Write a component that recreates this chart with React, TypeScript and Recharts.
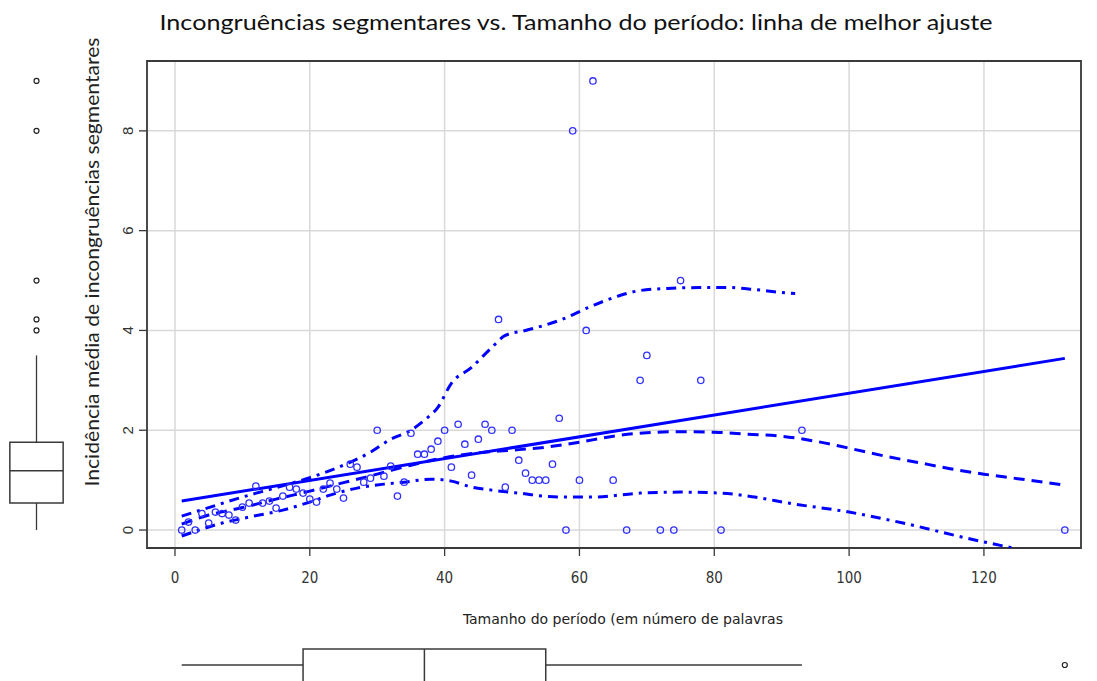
import React from 'react'
import {
  ComposedChart,
  Scatter,
  Line,
  XAxis,
  YAxis,
  CartesianGrid,
  ReferenceArea,
  ReferenceLine,
} from 'recharts'

// sentence length (words) vs mean incidence of segmental incongruities
const sizes = [
  1, 2, 3, 4, 5, 6, 7, 8, 9, 10, 11, 12, 13, 14, 15, 16, 17, 18, 19, 20,
  21, 22, 23, 24, 25, 26, 27, 28, 29, 30, 31, 32, 33, 34, 35, 36, 37, 38, 39, 40,
  41, 42, 43, 44, 45, 46, 47, 48, 49, 50, 51, 52, 53, 54, 55, 56, 57, 58, 59, 60,
  61, 62, 65, 67, 69, 70, 72, 74, 75, 78, 81, 93, 132,
]
const incidence = [
  0, 0.16, 0, 0.33, 0.14, 0.36, 0.33, 0.3, 0.2, 0.46, 0.54, 0.88, 0.54, 0.58, 0.44, 0.68, 0.86, 0.82, 0.74, 0.62,
  0.56, 0.82, 0.94, 0.82, 0.64, 1.32, 1.26, 0.96, 1.04, 2.0, 1.08, 1.28, 0.68, 0.96, 1.94, 1.52, 1.52, 1.62, 1.78, 2.0,
  1.26, 2.12, 1.72, 1.1, 1.82, 2.12, 2.0, 4.22, 0.86, 2.0, 1.4, 1.14, 1.0, 1.0, 1.0, 1.32, 2.24, 0, 8, 1.0,
  4.0, 9.0, 1.0, 0, 3.0, 3.5, 0, 0, 5.0, 3.0, 0, 2.0, 0,
]

// least squares line
const fitX = [1, 132]
const fitY = [0.58, 3.44]

// loess smoother
const smoothX = [1, 5, 10, 15, 20, 25, 30, 35, 40, 45, 50, 55, 60, 65, 70, 75, 80, 85, 90, 95, 100, 105, 110, 115, 120, 125, 132]
const smoothY = [0.12, 0.3, 0.45, 0.62, 0.78, 0.95, 1.12, 1.3, 1.45, 1.55, 1.6, 1.66, 1.76, 1.88, 1.95, 1.97, 1.96, 1.92, 1.88, 1.78, 1.64, 1.49, 1.36, 1.23, 1.12, 1.03, 0.9]

// spread, upper and lower
const upperX = [1, 5, 10, 15, 20, 25, 29, 32, 35, 37, 39, 41, 44, 47, 49, 52, 57, 62, 66, 69, 73, 78, 82, 86, 90, 92]
const upperY = [0.28, 0.45, 0.66, 0.85, 1.05, 1.3, 1.56, 1.82, 2.0, 2.2, 2.46, 2.94, 3.26, 3.66, 3.9, 4.0, 4.2, 4.5, 4.7, 4.8, 4.84, 4.86, 4.86, 4.82, 4.76, 4.74]
const lowerX = [1, 7, 11, 16, 20, 23, 27, 31, 34, 38, 41, 44, 47, 51, 57, 62, 69, 75, 81, 86, 91, 100, 108, 118, 125, 130]
const lowerY = [-0.12, 0.14, 0.26, 0.4, 0.56, 0.7, 0.84, 0.92, 0.96, 1.02, 0.98, 0.86, 0.8, 0.74, 0.66, 0.66, 0.74, 0.76, 0.74, 0.66, 0.54, 0.36, 0.14, -0.18, -0.38, -0.52]

// marginal boxplots: [low whisker, Q1, median, Q3, high whisker]
const xBoxStats = [1, 19, 37, 55, 93]
const xOutliers = [132]
const yBoxStats = [0, 0.54, 1.19, 1.76, 3.5]
const yOutliers = [4, 4.22, 5, 8, 9]

const xTicks = [0, 20, 40, 60, 80, 100, 120]
const yTicks = [0, 2, 4, 6, 8]

const X_DOMAIN: [number, number] = [-4.15, 134.4]
const Y_DOMAIN: [number, number] = [-0.36, 9.4]
const BLUE = '#0000ff'
const INK = '#3a3a3a'
const NARROW = "'Liberation Sans Narrow', 'DejaVu Sans Condensed', 'Arial Narrow', sans-serif"
const SANS = "'Liberation Sans', Arial, sans-serif"
const TITLE_FONT = "Lato, 'Open Sans', sans-serif"

const zip = (xs: number[], ys: number[]) => xs.map((x, i) => ({ x, y: ys[i] }))
const points = zip(sizes, incidence)

const XTick = (props: any) => (
  <text x={props.x} y={props.y + 20} dy="0.35em" textAnchor="middle" fontSize={15} fill="#333" fontFamily={NARROW}>
    {props.payload.value}
  </text>
)

const YTick = (props: any) => {
  const x = props.x - 9
  return (
    <text
      x={x}
      y={props.y}
      dy="0.35em"
      textAnchor="middle"
      fontSize={15}
      fill="#333"
      fontFamily={SANS}
      transform={`rotate(-90, ${x}, ${props.y})`}
    >
      {props.payload.value}
    </text>
  )
}

const hollow = (r: number, color: string, w: number) => (p: any) => (
  <circle cx={p.cx} cy={p.cy} r={r} fill="none" stroke={color} strokeWidth={w} />
)

function LeftBox() {
  const [lo, q1, med, q3, hi] = yBoxStats
  return (
    <ComposedChart width={73} height={681} margin={{ top: 61, right: 0, bottom: 133, left: 0 }}>
      <XAxis type="number" dataKey="x" domain={[-1, 1]} hide />
      <YAxis type="number" dataKey="y" domain={Y_DOMAIN} allowDataOverflow hide />
      <ReferenceArea x1={-0.73} x2={0.73} y1={q1} y2={q3} fill="none" stroke={INK} strokeWidth={1.5} fillOpacity={0} ifOverflow="visible" />
      <ReferenceLine segment={[{ x: -0.73, y: med }, { x: 0.73, y: med }]} stroke={INK} strokeWidth={1.5} ifOverflow="visible" />
      <ReferenceLine segment={[{ x: 0, y: q3 }, { x: 0, y: hi }]} stroke={INK} strokeWidth={1.3} ifOverflow="visible" />
      <ReferenceLine segment={[{ x: 0, y: lo }, { x: 0, y: q1 }]} stroke={INK} strokeWidth={1.3} ifOverflow="visible" />
      <Scatter data={yOutliers.map((y) => ({ x: 0, y }))} shape={hollow(2.5, '#222', 1.2)} isAnimationActive={false} />
    </ComposedChart>
  )
}

function BottomBox() {
  const [lo, q1, med, q3, hi] = xBoxStats
  return (
    <ComposedChart width={1097} height={64} margin={{ top: 0, right: 16, bottom: 0, left: 147 }}>
      <XAxis type="number" dataKey="x" domain={X_DOMAIN} allowDataOverflow hide />
      <YAxis type="number" dataKey="y" domain={[-1, 1]} hide />
      <ReferenceArea x1={q1} x2={q3} y1={-0.6} y2={0.5} fill="none" fillOpacity={0} stroke={INK} strokeWidth={1.5} ifOverflow="visible" />
      <ReferenceLine segment={[{ x: med, y: -0.6 }, { x: med, y: 0.5 }]} stroke={INK} strokeWidth={1.5} ifOverflow="visible" />
      <ReferenceLine segment={[{ x: lo, y: 0 }, { x: q1, y: 0 }]} stroke={INK} strokeWidth={1.3} ifOverflow="visible" />
      <ReferenceLine segment={[{ x: q3, y: 0 }, { x: hi, y: 0 }]} stroke={INK} strokeWidth={1.3} ifOverflow="visible" />
      <Scatter data={xOutliers.map((x) => ({ x, y: 0 }))} shape={hollow(2.5, '#222', 1.2)} isAnimationActive={false} />
    </ComposedChart>
  )
}

export default function App() {
  return (
    <div style={{ position: 'absolute', left: 0, top: 0, width: 1097, height: 681, background: '#fff', overflow: 'hidden' }}>
      <div style={{ position: 'absolute', left: 0, top: 0 }}>
        <LeftBox />
      </div>
      <div style={{ position: 'absolute', left: 0, top: 633 }}>
        <BottomBox />
      </div>
      <div style={{ position: 'absolute', left: 0, top: 0 }}>
        <ComposedChart width={1097} height={681} margin={{ top: 61, right: 16, bottom: 103, left: 107 }}>
          <CartesianGrid stroke="#d9d9d9" strokeWidth={1.5} />
          <XAxis
            type="number"
            dataKey="x"
            domain={X_DOMAIN}
            ticks={xTicks}
            allowDataOverflow
            height={30}
            tickSize={8}
            axisLine={false}
            tickLine={{ stroke: INK, strokeWidth: 1.3 }}
            tick={<XTick />}
            interval={0}
          />
          <YAxis
            type="number"
            dataKey="y"
            domain={Y_DOMAIN}
            ticks={yTicks}
            allowDataOverflow
            width={40}
            tickSize={8}
            axisLine={false}
            tickLine={{ stroke: INK, strokeWidth: 1.3 }}
            tick={<YTick />}
            interval={0}
          />
          <ReferenceArea
            x1={X_DOMAIN[0]}
            x2={X_DOMAIN[1]}
            y1={Y_DOMAIN[0]}
            y2={Y_DOMAIN[1]}
            fill="none"
            fillOpacity={0}
            stroke={INK}
            strokeWidth={1.8}
            ifOverflow="visible"
          />
          <Scatter data={points} shape={hollow(3.2, '#3030ff', 1.3)} isAnimationActive={false} />
          <Line data={zip(fitX, fitY)} dataKey="y" type="linear" stroke={BLUE} strokeWidth={3} dot={false} isAnimationActive={false} />
          <Line data={zip(smoothX, smoothY)} dataKey="y" type="monotone" stroke={BLUE} strokeWidth={3} strokeDasharray="11 7" dot={false} isAnimationActive={false} />
          <Line data={zip(upperX, upperY)} dataKey="y" type="monotone" stroke={BLUE} strokeWidth={3} strokeDasharray="10 6 3 6" dot={false} isAnimationActive={false} />
          <Line data={zip(lowerX, lowerY)} dataKey="y" type="monotone" stroke={BLUE} strokeWidth={3} strokeDasharray="10 6 3 6" dot={false} isAnimationActive={false} />
        </ComposedChart>
      </div>
      <svg width={1097} height={681} style={{ position: 'absolute', left: 0, top: 0, pointerEvents: 'none' }}>
        <text x={576} y={30} textAnchor="middle" fontSize={22} fill="#111" fontFamily={TITLE_FONT} textLength={833} lengthAdjust="spacingAndGlyphs">
          Incongruências segmentares vs. Tamanho do período: linha de melhor ajuste
        </text>
        <text
          x={92}
          y={262}
          dy="0.35em"
          textAnchor="middle"
          fontSize={19}
          fill="#222"
          fontFamily={TITLE_FONT}
          textLength={449}
          lengthAdjust="spacingAndGlyphs"
          transform="rotate(-90, 92, 262)"
        >
          Incidência média de incongruências segmentares
        </text>
        <text x={623} y={619} dy="0.35em" textAnchor="middle" fontSize={14} fill="#222" fontFamily={NARROW} textLength={320} lengthAdjust="spacingAndGlyphs">
          Tamanho do período (em número de palavras
        </text>
      </svg>
    </div>
  )
}
